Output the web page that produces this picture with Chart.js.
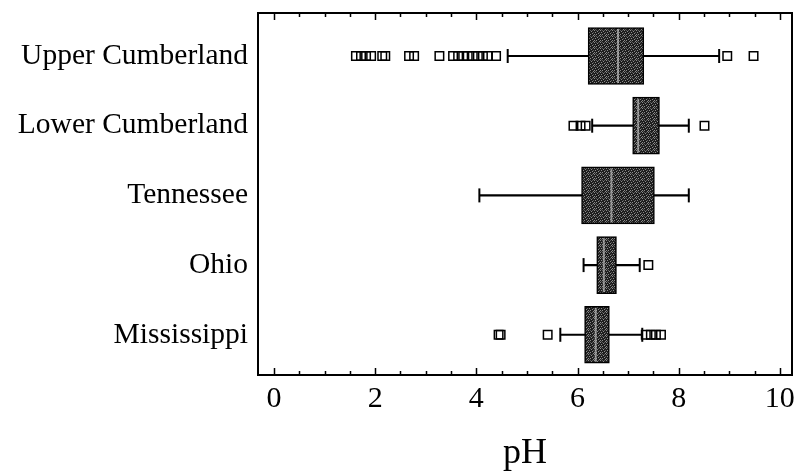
<!DOCTYPE html>
<html>
<head>
<meta charset="utf-8">
<script src="https://cdn.jsdelivr.net/npm/chart.js@4/dist/chart.umd.min.js"></script>
<style>
    html, body { margin: 0; padding: 0; background: #fff; }
    #wrap { width: 795px; height: 475px; position: relative; }
</style>
</head>
<body>
<div id="wrap"><canvas id="phChart"></canvas></div>
<script>
// River basins (top to bottom)
const categories = ['Upper Cumberland', 'Lower Cumberland', 'Tennessee', 'Ohio', 'Mississippi'];

// Box plot statistics (pH)
const whiskerLow  = [4.62, 6.29, 4.06, 6.12, 5.66];
const q1          = [6.21, 7.09, 6.08, 6.38, 6.14];
const median      = [6.80, 7.20, 6.67, 6.52, 6.36];
const q3          = [7.31, 7.62, 7.52, 6.77, 6.63];
const whiskerHigh = [8.80, 8.20, 8.20, 7.23, 7.28];

// Outliers per basin
const outliers = [
    [1.62, 1.72, 1.82, 1.92, 2.14, 2.20, 2.67, 2.77, 3.27, 3.54, 3.64, 3.74, 3.83, 3.93, 4.03, 4.13, 4.23, 4.39, 8.96, 9.48],
    [5.92, 6.06, 6.16, 8.51],
    [],
    [7.40],
    [4.44, 4.48, 5.41, 7.35, 7.45, 7.55, 7.65]
];

// Axis ticks
const xLabelTicks = [0, 2, 4, 6, 8, 10];
const xMinorStep = 0.5;

const serif = "'Liberation Serif', 'Times New Roman', serif";

// all tick positions along x (labels only on the even ones)
const xTicks = [];
for (let i = 0; i <= 20; i++) xTicks.push(i * xMinorStep);

// dark stippled fill for the boxes
function makeBoxPattern() {
    const tile = document.createElement('canvas');
    tile.width = 6;
    tile.height = 6;
    const t = tile.getContext('2d');
    t.fillStyle = '#1e1e1e';
    t.fillRect(0, 0, 6, 6);
    t.fillStyle = '#8c8c8c';
    [[0, 0], [3, 1], [1, 2], [4, 3], [2, 4], [5, 5], [0, 4]].forEach(p => t.fillRect(p[0], p[1], 1, 1));
    t.fillStyle = '#5a5a5a';
    [[2, 0], [5, 2], [1, 5], [4, 0]].forEach(p => t.fillRect(p[0], p[1], 1, 1));
    return t.createPattern(tile, 'repeat');
}

// Frame around the plot and inward tick marks on top and bottom
const frameTicks = {
    id: 'frameTicks',
    afterDraw(chart) {
        const { ctx, chartArea: a, scales: { x } } = chart;
        ctx.save();
        ctx.strokeStyle = '#000';
        ctx.lineWidth = 1.5;
        xTicks.forEach(v => {
            const px = Math.round(x.getPixelForValue(v)) + 0.5;
            const len = xLabelTicks.includes(v) ? 7 : 4;
            ctx.beginPath();
            ctx.moveTo(px, a.bottom);
            ctx.lineTo(px, a.bottom - len);
            ctx.moveTo(px, a.top);
            ctx.lineTo(px, a.top + len);
            ctx.stroke();
        });
        ctx.lineWidth = 2;
        ctx.strokeRect(a.left, a.top, a.right - a.left, a.bottom - a.top);
        ctx.restore();
    }
};

const boxData = categories.map((c, i) => ({ y: i, x: [q1[i], q3[i]] }));
const whiskerData = categories.map((c, i) => ({ y: i, x: [whiskerLow[i], whiskerHigh[i]] }));
const capData = [];
categories.forEach((c, i) => {
    capData.push({ x: whiskerLow[i], y: i });
    capData.push({ x: whiskerHigh[i], y: i });
});
const medianData = categories.map((c, i) => ({ x: median[i], y: i }));
const outlierData = [];
outliers.forEach((list, i) => list.forEach(v => outlierData.push({ x: v, y: i })));

document.addEventListener('DOMContentLoaded', function() {
    const ctx = document.getElementById('phChart').getContext('2d');

    new Chart(ctx, {
        type: 'bar',
        data: {
            datasets: [
                {
                    type: 'bar',
                    indexAxis: 'y',
                    data: whiskerData,
                    backgroundColor: '#000',
                    borderWidth: 0,
                    barThickness: 1.5,
                    grouped: false,
                    order: 4
                },
                {
                    type: 'bar',
                    indexAxis: 'y',
                    data: boxData,
                    backgroundColor: makeBoxPattern(),
                    borderColor: '#000',
                    borderWidth: 1.5,
                    borderSkipped: false,
                    barThickness: 57,
                    grouped: false,
                    order: 3
                },
                {
                    type: 'scatter',
                    data: medianData,
                    pointStyle: 'line',
                    rotation: 90,
                    radius: 27,
                    borderColor: 'rgba(190, 190, 190, 0.7)',
                    borderWidth: 2,
                    order: 2
                },
                {
                    type: 'scatter',
                    data: capData,
                    pointStyle: 'line',
                    rotation: 90,
                    radius: 7,
                    borderColor: '#000',
                    borderWidth: 2,
                    order: 1
                },
                {
                    type: 'scatter',
                    data: outlierData,
                    pointStyle: 'rect',
                    radius: 6,
                    backgroundColor: 'rgba(255, 255, 255, 0)',
                    borderColor: '#000',
                    borderWidth: 1.5,
                    order: 0
                }
            ]
        },
        options: {
            responsive: true,
            maintainAspectRatio: false,
            animation: false,
            layout: {
                autoPadding: false,
                padding: { top: 13, right: 3, bottom: 0, left: 0 }
            },
            plugins: {
                legend: { display: false },
                tooltip: { enabled: false }
            },
            scales: {
                x: {
                    type: 'linear',
                    position: 'bottom',
                    offset: false,
                    min: -0.316,
                    max: 10.24,
                    grid: { display: false, drawTicks: false, offset: false },
                    border: { display: false },
                    afterBuildTicks: scale => {
                        scale.ticks = xTicks.map(v => ({ value: v }));
                    },
                    afterFit: scale => {
                        scale.height = 100;
                        scale.paddingLeft = 0;
                        scale.paddingRight = 0;
                    },
                    ticks: {
                        autoSkip: false,
                        maxRotation: 0,
                        padding: 6,
                        color: '#000',
                        font: { family: serif, size: 30 },
                        callback: value => xLabelTicks.includes(value) ? String(value) : ''
                    },
                    title: {
                        display: true,
                        text: 'pH',
                        color: '#000',
                        font: { family: serif, size: 36 },
                        padding: { top: 0, bottom: 0 }
                    }
                },
                y: {
                    type: 'linear',
                    position: 'left',
                    offset: false,
                    reverse: true,
                    min: -0.617,
                    max: 4.577,
                    grid: { display: false, drawTicks: false, offset: false },
                    border: { display: false },
                    afterBuildTicks: scale => {
                        scale.ticks = categories.map((c, i) => ({ value: i }));
                    },
                    afterFit: scale => {
                        scale.width = 258;
                        scale.paddingTop = 0;
                        scale.paddingBottom = 0;
                    },
                    ticks: {
                        autoSkip: false,
                        padding: 10,
                        color: '#000',
                        font: { family: serif, size: 29.5 },
                        callback: value => categories[value]
                    }
                }
            }
        },
        plugins: [frameTicks]
    });
});
</script>
</body>
</html>
